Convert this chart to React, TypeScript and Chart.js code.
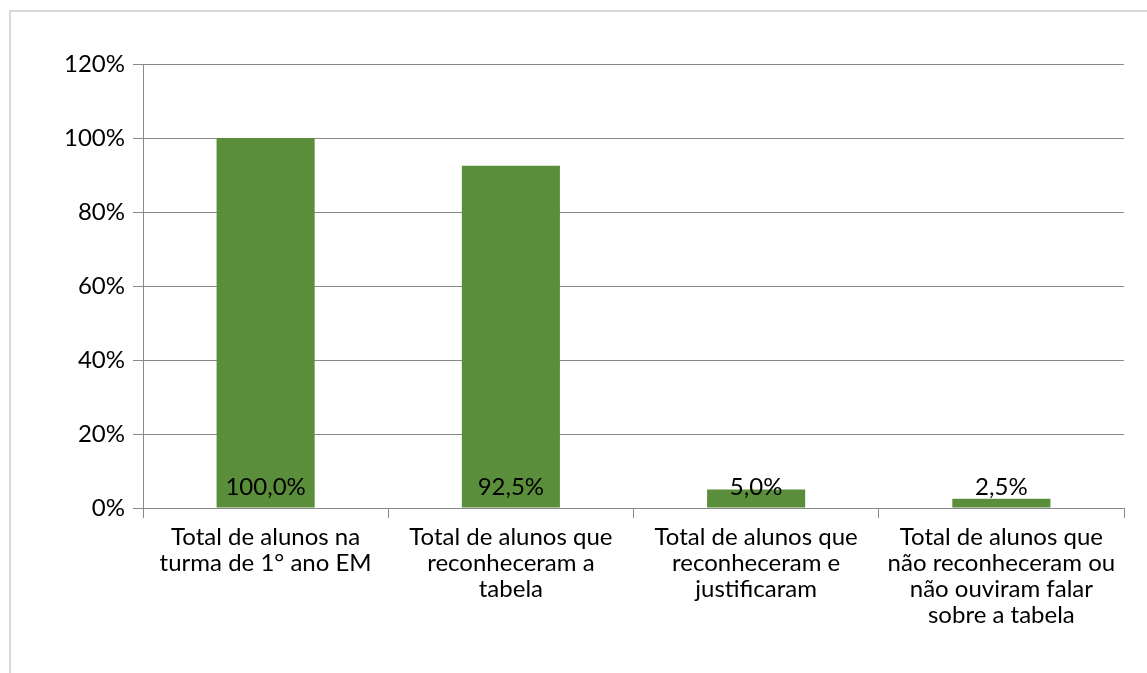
import React, { useEffect, useRef } from "react";
import { Chart, registerables } from "chart.js";

Chart.register(...registerables);

const categories: string[][] = [
  ["Total de alunos na", "turma de 1° ano EM"],
  ["Total de alunos que", "reconheceram a", "tabela"],
  ["Total de alunos que", "reconheceram e", "justificaram"],
  ["Total de alunos que", "não reconheceram ou", "não ouviram falar", "sobre a tabela"],
];
const values: number[] = [100, 92.5, 5, 2.5];
const valueLabels: string[] = ["100,0%", "92,5%", "5,0%", "2,5%"];
const yTicks: number[] = [0, 20, 40, 60, 80, 100, 120];

const FONT = "Lato, 'Liberation Sans', sans-serif";
const BAR = "#5B8E3B";
const GRID = "#888888";

const frame = {
  id: "frame",
  beforeDraw(chart: any) {
    const ctx = chart.ctx;
    ctx.save();
    ctx.fillStyle = "#ffffff";
    ctx.fillRect(0, 0, chart.width, chart.height);
    ctx.strokeStyle = "#d9d9d9";
    ctx.lineWidth = 2;
    ctx.strokeRect(10, 11, chart.width + 20, chart.height + 20);
    ctx.restore();
  },
};

const dataLabels = {
  id: "dataLabels",
  afterDatasetsDraw(chart: any) {
    const ctx = chart.ctx;
    const meta = chart.getDatasetMeta(0);
    const y0 = chart.scales.y.getPixelForValue(0);
    ctx.save();
    ctx.font = `24px ${FONT}`;
    ctx.fillStyle = "#000000";
    ctx.textAlign = "center";
    ctx.textBaseline = "middle";
    meta.data.forEach((bar: any, i: number) => {
      ctx.fillText(valueLabels[i], bar.x, y0 - 21);
    });
    ctx.restore();
  },
};

export default function App() {
  const ref = useRef<HTMLCanvasElement>(null);
  useEffect(() => {
    if (!ref.current) return;
    const chart = new Chart(ref.current, {
      type: "bar",
      data: {
        labels: categories,
        datasets: [
          {
            data: values,
            backgroundColor: BAR,
            barPercentage: 0.4,
            categoryPercentage: 1,
          },
        ],
      },
      options: {
        animation: false,
        responsive: false,
        maintainAspectRatio: false,
        layout: { padding: { top: 64, right: 23, bottom: 0, left: 0 } },
        plugins: { legend: { display: false }, tooltip: { enabled: false } },
        scales: {
          x: {
            offset: true,
            grid: {
              offset: true,
              drawOnChartArea: false,
              drawTicks: true,
              tickLength: 10,
              color: GRID,
            },
            border: { display: true, color: GRID },
            ticks: {
              color: "#000000",
              font: { family: FONT, size: 24, lineHeight: 1.09 },
              padding: 6,
              maxRotation: 0,
              autoSkip: false,
            },
            afterFit(scale: any) {
              scale.height = 165;
            },
          },
          y: {
            min: 0,
            max: 120,
            afterBuildTicks(scale: any) {
              scale.ticks = yTicks.map((v) => ({ value: v }));
            },
            grid: { color: GRID, tickLength: 10 },
            border: { display: true, color: GRID },
            ticks: {
              color: "#000000",
              font: { family: FONT, size: 24 },
              padding: 8,
              callback: (v: any) => `${v}%`,
            },
            afterFit(scale: any) {
              scale.width = 143;
            },
          },
        },
      },
      plugins: [frame, dataLabels],
    });
    return () => chart.destroy();
  }, []);
  return (
    <div style={{ position: "absolute", left: 0, top: 0, width: 1147, height: 673 }}>
      <canvas ref={ref} width={1147} height={673} style={{ display: "block" }} />
    </div>
  );
}
